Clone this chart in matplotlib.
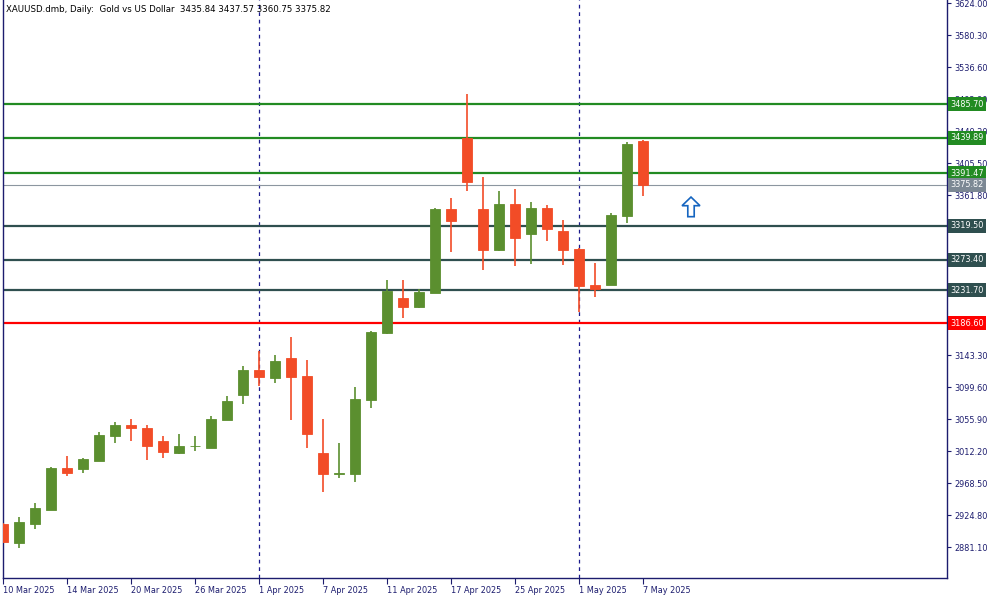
import matplotlib
matplotlib.use("Agg")
import matplotlib.pyplot as plt
from matplotlib.patches import Polygon
import numpy as np
import pandas as pd

# daily sessions shown on the chart (Good Friday / Easter Monday missing)
dates = pd.to_datetime([
    "2025-03-10", "2025-03-11", "2025-03-12", "2025-03-13", "2025-03-14",
    "2025-03-17", "2025-03-18", "2025-03-19", "2025-03-20", "2025-03-21",
    "2025-03-24", "2025-03-25", "2025-03-26", "2025-03-27", "2025-03-28",
    "2025-03-31", "2025-04-01", "2025-04-02", "2025-04-03", "2025-04-04",
    "2025-04-07", "2025-04-08", "2025-04-09", "2025-04-10", "2025-04-11",
    "2025-04-14", "2025-04-15", "2025-04-16", "2025-04-17", "2025-04-22",
    "2025-04-23", "2025-04-24", "2025-04-25", "2025-04-28", "2025-04-29",
    "2025-04-30", "2025-05-01", "2025-05-02", "2025-05-05", "2025-05-06",
    "2025-05-07",
])

opens = np.array([
    2912.5, 2887.0, 2912.9, 2932.1, 2989.0, 2988.0, 2999.0, 3033.1, 3047.7, 3043.6,
    3025.9, 3009.9, 3018.5, 3016.7, 3055.0, 3089.1, 3122.8, 3112.3, 3139.2, 3114.6,
    3009.5, 2981.5, 2981.2, 3082.3, 3173.8, 3221.1, 3208.9, 3228.4, 3342.7, 3439.6,
    3342.7, 3287.1, 3349.5, 3309.0, 3344.1, 3312.6, 3288.1, 3238.9, 3239.3, 3333.5,
    3435.84,
])
highs = np.array([
    2913.5, 2922.1, 2941.2, 2990.4, 3005.4, 3002.0, 3038.2, 3051.8, 3055.9, 3047.7,
    3032.7, 3035.4, 3032.7, 3060.0, 3087.3, 3128.3, 3149.2, 3143.3, 3167.9, 3136.5,
    3055.9, 3023.1, 3099.6, 3176.1, 3245.7, 3245.7, 3233.4, 3343.5, 3357.7, 3499.7,
    3386.0, 3367.3, 3370.0, 3352.2, 3348.1, 3327.7, 3289.0, 3268.9, 3337.2, 3434.2,
    3437.57,
])
lows = np.array([
    2887.0, 2880.2, 2906.1, 2931.0, 2978.5, 2982.6, 2998.0, 3023.5, 3026.3, 3000.3,
    3003.1, 3008.5, 3012.6, 3016.0, 3054.0, 3076.8, 3101.0, 3105.5, 3055.0, 3016.7,
    2956.6, 2975.8, 2970.3, 3071.3, 3172.0, 3194.2, 3208.0, 3227.5, 3284.4, 3367.7,
    3259.8, 3286.0, 3265.3, 3268.0, 3299.4, 3266.2, 3202.4, 3222.9, 3238.5, 3324.0,
    3360.75,
])
closes = np.array([
    2888.4, 2915.3, 2934.4, 2989.0, 2982.6, 3001.3, 3034.1, 3047.7, 3044.0, 3019.5,
    3011.3, 3019.0, 3019.5, 3055.9, 3080.5, 3122.8, 3113.7, 3135.1, 3113.7, 3035.8,
    2981.2, 2982.0, 3083.2, 3174.7, 3231.1, 3208.9, 3229.3, 3342.7, 3326.7, 3380.0,
    3287.1, 3349.5, 3303.5, 3344.1, 3315.8, 3287.1, 3237.9, 3233.0, 3334.5, 3431.4,
    3375.82,
])

resistance_levels = [3485.70, 3439.89, 3391.47]
support_levels = [3319.50, 3273.40, 3231.70]
key_level = 3186.60
last_price = 3375.82
price_ticks = [2881.10, 2924.80, 2968.50, 3012.20, 3055.90, 3099.60, 3143.30, 3187.00,
               3230.70, 3274.40, 3318.10, 3361.80, 3405.50, 3449.20, 3492.90, 3536.60,
               3580.30, 3624.00]
# tick labels fully hidden behind the level boxes
hidden_ticks = [3187.00, 3230.70, 3274.40, 3318.10]
month_starts = ["2025-04-01", "2025-05-01"]

UP = "#5B8F2F"
DOWN = "#F24C27"
NAVY = "#1C1C6E"
FONT = 5.9

fig = plt.figure(figsize=(10, 6), dpi=100)
ax = fig.add_axes([0.003, 1 - 578 / 600, 0.944, 578 / 600])
ax.set_xlim(0.0, 59.0)
ax.set_ylim(2838.8, 3628.1)

x = np.arange(len(dates))
colors = np.where(closes >= opens, UP, DOWN)

# wicks then bodies
ax.vlines(x, lows, highs, colors=colors, lw=1.2, zorder=3)
body_low = np.minimum(opens, closes)
body_h = np.abs(closes - opens)
ax.bar(x, body_h, bottom=body_low, width=0.68, color=colors,
       edgecolor=colors, linewidth=0.6, zorder=4)

# horizontal levels
for lv in resistance_levels:
    ax.axhline(lv, color="#228B22", lw=1.6, zorder=2)
for lv in support_levels:
    ax.axhline(lv, color="#2F4F4F", lw=1.6, zorder=2)
ax.axhline(key_level, color="#FF0000", lw=1.6, zorder=2)
ax.axhline(last_price, color="#8C96A0", lw=0.8, zorder=2)

# month separators
for d in month_starts:
    xi = list(dates).index(pd.Timestamp(d))
    ax.axvline(xi, color="#1C1C8C", lw=0.9, ls=(0, (3, 3)), zorder=1)

# right side price labels
ytrans = ax.get_yaxis_transform()
def price_box(val, face):
    ax.text(1.0035, val, f"{val:.2f}", transform=ytrans, fontsize=FONT, color="white",
            ha="left", va="center", clip_on=False, zorder=6,
            bbox=dict(facecolor=face, edgecolor="none", boxstyle="square,pad=0.3"))

for lv in resistance_levels:
    price_box(lv, "#228B22")
for lv in support_levels:
    price_box(lv, "#2F4F4F")
price_box(key_level, "#FF0000")
price_box(last_price, "#7C8894")

# hollow up arrow
ax_c, tip, head, base = 43.0, 3359.0, 3347.2, 3332.2
arrow = Polygon([(ax_c, tip), (ax_c + 0.56, head), (ax_c + 0.2, head), (ax_c + 0.2, base),
                 (ax_c - 0.2, base), (ax_c - 0.2, head), (ax_c - 0.56, head)],
                closed=True, facecolor="white", edgecolor="#1565C0", lw=1.2, zorder=5)
ax.add_patch(arrow)

# axes styling
ax.spines["top"].set_visible(False)
for s in ["left", "right", "bottom"]:
    ax.spines[s].set_color(NAVY)
    ax.spines[s].set_linewidth(1.0)

ax.yaxis.tick_right()
ax.set_yticks(price_ticks)
ax.set_yticklabels(["" if v in hidden_ticks else f"{v:.2f}" for v in price_ticks])
ax.tick_params(axis="y", direction="out", length=3, width=0.8, colors=NAVY,
               labelsize=FONT, pad=2.5)

tick_idx = x[::4]
tick_labels = [f"{d.day} {d.strftime('%b %Y')}" for d in dates[::4]]
ax.set_xticks(tick_idx)
ax.set_xticklabels(tick_labels, ha="left")
ax.tick_params(axis="x", direction="out", length=4, width=0.8, colors=NAVY,
               labelsize=FONT, pad=1.5)

fig.text(0.006, 1 - 9 / 600,
         "XAUUSD.dmb, Daily:  Gold vs US Dollar  3435.84 3437.57 3360.75 3375.82",
         fontsize=FONT + 0.3, color="black", ha="left", va="center")

fig.savefig("out.png", dpi=100, facecolor="white")
